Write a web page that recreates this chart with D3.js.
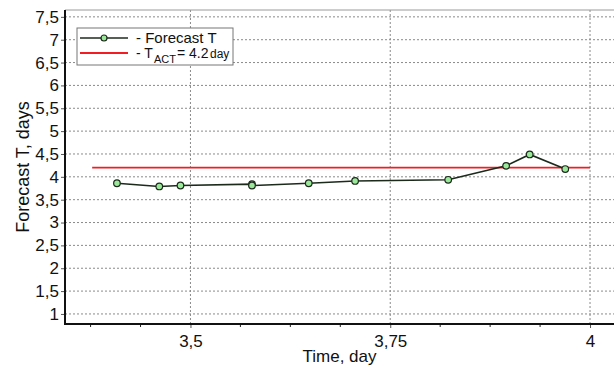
<!DOCTYPE html>
<html>
<head>
<meta charset="utf-8">
<script src="https://cdn.jsdelivr.net/npm/d3@7"></script>
<style>
  body { margin: 0; background: #fff; }
  text { font-family: "Liberation Sans", Arial, sans-serif; fill: #111; }
</style>
</head>
<body>
<svg id="chart" width="614" height="365"></svg>
<script>
// data
const timeDays = [3.408, 3.461, 3.4875, 3.577, 3.577, 3.648, 3.706, 3.8225, 3.895, 3.9245, 3.969];
const forecastT = [3.86, 3.79, 3.81, 3.84, 3.81, 3.86, 3.91, 3.935, 4.24, 4.49, 4.17];
const tAct = 4.2;
const tActRange = [3.377, 4.0];
const yTicks = [1, 1.5, 2, 2.5, 3, 3.5, 4, 4.5, 5, 5.5, 6, 6.5, 7, 7.5];
const xTicks = [3.5, 3.75, 4];
const xMinor = [3.375, 3.4375, 3.5625, 3.625, 3.6875, 3.8125, 3.875, 3.9375];

const svg = d3.select("#chart");
const m = { left: 65, right: 614, top: 10, bottom: 324 };

const x = d3.scaleLinear().domain([3.343, 4.03]).range([m.left, m.right]);
const y = d3.scaleLinear().domain([0.78, 7.65]).range([m.bottom, m.top]);
const fmt = d => String(d).replace(".", ",");

// grid
let g_grid = svg.append("g").attr("class", "grid");
g_grid.selectAll("line.h").data(yTicks).enter().append("line")
    .attr("x1", m.left).attr("x2", m.right)
    .attr("y1", d => y(d)).attr("y2", d => y(d))
    .attr("stroke", "#8a8a8a").attr("stroke-width", 1)
    .attr("stroke-dasharray", "2,2");
g_grid.selectAll("line.v").data(xTicks).enter().append("line")
    .attr("x1", d => x(d)).attr("x2", d => x(d))
    .attr("y1", m.top).attr("y2", m.bottom)
    .attr("stroke", "#8a8a8a").attr("stroke-width", 1)
    .attr("stroke-dasharray", "2,2");

// top border
svg.append("line")
    .attr("x1", m.left).attr("x2", m.right)
    .attr("y1", m.top).attr("y2", m.top)
    .attr("stroke", "#9a9a9a").attr("stroke-width", 1);

// axes
let g_y = svg.append("g").attr("transform", `translate(${m.left},0)`)
    .call(d3.axisLeft(y).tickValues(yTicks).tickFormat(fmt).tickSize(4).tickPadding(2));
let g_x = svg.append("g").attr("transform", `translate(0,${m.bottom})`)
    .call(d3.axisBottom(x).tickValues(xTicks).tickFormat(fmt).tickSize(4).tickPadding(7));
g_x.selectAll(".minor").data(xMinor).enter().append("line")
    .attr("x1", d => x(d)).attr("x2", d => x(d))
    .attr("y1", 0).attr("y2", 3)
    .attr("stroke", "#222");
[g_y, g_x].forEach(g => {
    g.select(".domain").remove();
    g.selectAll(".tick line").attr("stroke", "#555");
    g.selectAll(".tick text").style("font-size", "17px").attr("fill", "#111");
});
svg.append("line")
    .attr("x1", m.left).attr("x2", m.left)
    .attr("y1", m.top).attr("y2", m.bottom + 1)
    .attr("stroke", "#111").attr("stroke-width", 2);
svg.append("line")
    .attr("x1", m.left).attr("x2", m.right)
    .attr("y1", m.bottom).attr("y2", m.bottom)
    .attr("stroke", "#111").attr("stroke-width", 2);

// axis titles
svg.append("text")
    .attr("transform", `translate(29,${(m.top + m.bottom) / 2}) rotate(-90)`)
    .attr("text-anchor", "middle")
    .style("font-size", "18px")
    .text("Forecast T, days");
svg.append("text")
    .attr("x", (m.left + m.right) / 2).attr("y", 362)
    .attr("text-anchor", "middle")
    .style("font-size", "17px")
    .text("Time, day");

// T_ACT line
svg.append("line")
    .attr("x1", x(tActRange[0])).attr("x2", x(tActRange[1]))
    .attr("y1", y(tAct)).attr("y2", y(tAct))
    .attr("stroke", "#f01e24").attr("stroke-width", 1.8);

// forecast series
const pts = timeDays.map((t, i) => ({ t: t, v: forecastT[i] }));
svg.append("path")
    .datum(pts)
    .attr("fill", "none")
    .attr("stroke", "#1c2a1c")
    .attr("stroke-width", 1.6)
    .attr("d", d3.line().x(d => x(d.t)).y(d => y(d.v)));
svg.selectAll("circle.pt").data(pts).enter().append("circle")
    .attr("cx", d => x(d.t)).attr("cy", d => y(d.v)).attr("r", 3.3)
    .attr("fill", "#9be89b").attr("stroke", "#1c2a1c").attr("stroke-width", 1.2);

// legend
let g_leg = svg.append("g").attr("transform", "translate(77,28)");
g_leg.append("rect")
    .attr("width", 156).attr("height", 37)
    .attr("fill", "#fff").attr("stroke", "#777").attr("stroke-width", 1);
g_leg.append("line")
    .attr("x1", 3).attr("x2", 51).attr("y1", 10).attr("y2", 10)
    .attr("stroke", "#1c2a1c").attr("stroke-width", 1.6);
g_leg.append("circle")
    .attr("cx", 27).attr("cy", 10).attr("r", 3)
    .attr("fill", "#9be89b").attr("stroke", "#1c2a1c").attr("stroke-width", 1.2);
g_leg.append("text").attr("x", 59).attr("y", 15)
    .style("font-size", "15px").text("-  Forecast T");
g_leg.append("line")
    .attr("x1", 3).attr("x2", 51).attr("y1", 25).attr("y2", 25)
    .attr("stroke", "#f01e24").attr("stroke-width", 1.8);
g_leg.append("text").attr("x", 59).attr("y", 30).style("font-size", "14px").text("- T");
g_leg.append("text").attr("x", 77).attr("y", 35).style("font-size", "11px").text("ACT");
g_leg.append("text").attr("x", 100).attr("y", 30).style("font-size", "14px").text("= 4.2");
g_leg.append("text").attr("x", 133).attr("y", 30).style("font-size", "12px").text("day");
</script>
</body>
</html>
